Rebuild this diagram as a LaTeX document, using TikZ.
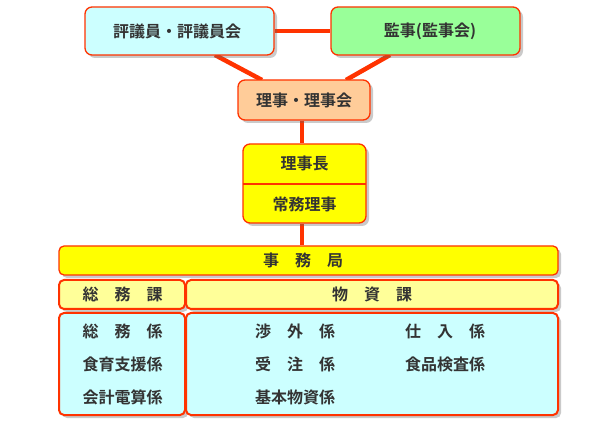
\documentclass[tikz,border=0pt]{standalone}
\usepackage{fontspec}
\newfontfamily\jp{Noto Sans CJK JP}[BoldFont={Noto Sans CJK JP Bold}]
\usetikzlibrary{shadows,backgrounds}
\definecolor{lnred}{HTML}{FF3300}
\definecolor{txt}{HTML}{333333}
\definecolor{cyanbg}{HTML}{CCFFFF}
\definecolor{greenbg}{HTML}{99FF99}
\definecolor{peachbg}{HTML}{FFCC99}
\definecolor{yelbg}{HTML}{FFFF00}
\definecolor{lyelbg}{HTML}{FFFF99}
\tikzset{
  boxbase/.style={draw=lnred, line width=1.3pt, rounded corners=7pt, inner sep=0pt,
    drop shadow={shadow xshift=3pt, shadow yshift=-3pt, opacity=0.35, fill=black!60}},
  lowbox/.style={boxbase, line width=2pt, rounded corners=5pt},
  lbl/.style={text=txt, font=\jp\bfseries\fontsize{16}{19}\selectfont, inner sep=0pt},
  conn/.style={draw=lnred, line width=4.5pt},
}
\begin{document}
\begin{tikzpicture}[x=1pt,y=-1pt]
\useasboundingbox (0,0) rectangle (600,430);
% top boxes
\node[boxbase, fill=cyanbg, minimum width=189pt, minimum height=48pt] (hyo) at (179.5,31) {};
\node[boxbase, fill=greenbg, minimum width=189pt, minimum height=48pt] (kan) at (425.5,31) {};
\node[boxbase, fill=peachbg, minimum width=132pt, minimum height=40pt] (riji) at (304,100) {};
\node[boxbase, fill=yelbg, minimum width=123pt, minimum height=79pt] (cho) at (304.5,183.5) {};
\node[boxbase, fill=yelbg, minimum width=499pt, minimum height=29pt, rounded corners=5pt] (jim) at (308.5,260.5) {};
\node[lowbox, fill=lyelbg, minimum width=126pt, minimum height=29pt] (som) at (122,294.5) {};
\node[lowbox, fill=lyelbg, minimum width=372pt, minimum height=29pt] (bus) at (372,294.5) {};
\node[lowbox, fill=cyanbg, minimum width=126pt, minimum height=102pt] (somk) at (122,364) {};
\node[lowbox, fill=cyanbg, minimum width=372pt, minimum height=102pt] (busk) at (372,364) {};
% divider
\coordinate (dl) at (243,184);
\coordinate (dr) at (366,184);
\draw[lnred, line width=2pt] (dl) -- (dr);
% connectors
\begin{scope}[on background layer]
\coordinate (h1) at (215,55);
\coordinate (r1) at (262,80);
\coordinate (k1) at (390,55);
\coordinate (r2) at (346,80);
\draw[conn] (hyo.east) -- (kan.west);
\draw[conn] (h1) -- (r1);
\draw[conn] (k1) -- (r2);
\draw[conn] (riji.south -| 302,0) -- (cho.north -| 302,0);
\draw[conn] (cho.south -| 302,0) -- (jim.north -| 302,0);
\end{scope}
% labels
\node[lbl] (t1) at (177,31) {評議員・評議員会};
\node[lbl] (t2) at (430,31) {監事(監事会)};
\node[lbl] (t3) at (304,100) {理事・理事会};
\node[lbl] (t4) at (304.5,163.5) {理事長};
\node[lbl] (t5) at (304.5,204) {常務理事};
\node[lbl] (t6) at (303,260.5) {事　務　局};
\node[lbl] (t7) at (122.5,294.5) {総　務　課};
\node[lbl] (t8) at (372,294.5) {物　資　課};
\node[lbl] (t9) at (122.5,331) {総　務　係};
\node[lbl] (t10) at (122.5,364.5) {食育支援係};
\node[lbl] (t11) at (122.5,397) {会計電算係};
\node[lbl] (t12) at (295,331) {渉　外　係};
\node[lbl] (t13) at (295,364.5) {受　注　係};
\node[lbl] (t14) at (295,397) {基本物資係};
\node[lbl] (t15) at (445,331) {仕　入　係};
\node[lbl] (t16) at (445,364.5) {食品検査係};
\end{tikzpicture}
\end{document}
